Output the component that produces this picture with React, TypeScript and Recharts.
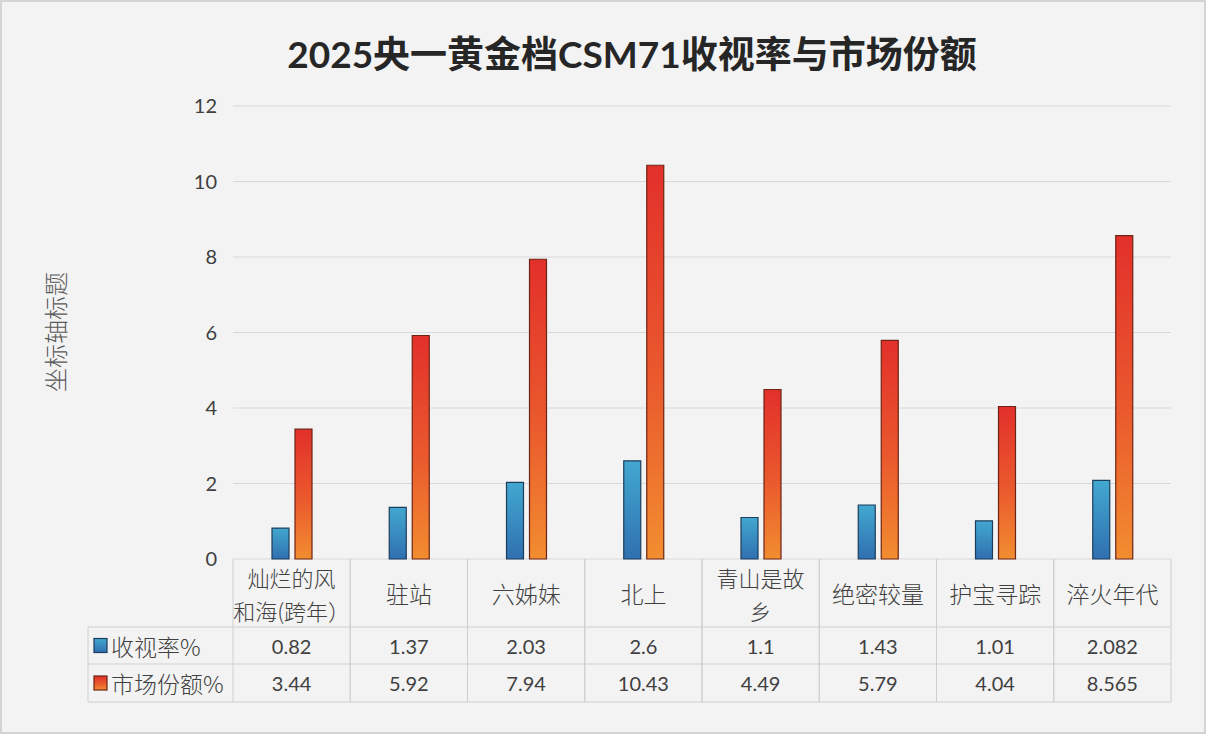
import { BarChart, Bar, XAxis, YAxis, CartesianGrid } from "recharts";

const categories = [
  "灿烂的风和海(跨年）",
  "驻站",
  "六姊妹",
  "北上",
  "青山是故乡",
  "绝密较量",
  "护宝寻踪",
  "淬火年代",
];
const ratings = [0.82, 1.37, 2.03, 2.6, 1.1, 1.43, 1.01, 2.082];
const shares = [3.44, 5.92, 7.94, 10.43, 4.49, 5.79, 4.04, 8.565];
const seriesNames = ["收视率%", "市场份额%"];
const yTicks = [0, 2, 4, 6, 8, 10, 12];

const title = "2025央一黄金档CSM71收视率与市场份额";
const yTitle = "坐标轴标题";

const data = categories.map((name, i) => ({
  name,
  rating: ratings[i],
  share: shares[i],
}));

// layout
const W = 1206;
const H = 734;
const PLOT_LEFT = 233;
const PLOT_RIGHT = 1171;
const PLOT_TOP = 106;
const PLOT_BOTTOM = 559;
const HEAD_BOTTOM = 627;
const ROW1_BOTTOM = 664;
const TABLE_BOTTOM = 702;
const ROW_LABEL_LEFT = 88;
const Y_AXIS_W = 60;
const COL_W = (PLOT_RIGHT - PLOT_LEFT) / categories.length;

const BORDER = "#cfcfcf";
const TEXT = "#404040";
const CJK = "'Noto Sans CJK SC', sans-serif";
const NUM = "Lato, 'Noto Sans CJK SC', sans-serif";

function splitLabel(s: string) {
  if (s.length <= 4) return [s];
  return [s.slice(0, 4), s.slice(4)];
}

function LegendKey({ x, y, fill, stroke }: { x: number; y: number; fill: string; stroke: string }) {
  return <rect x={x} y={y - 7} width={13} height={14} fill={fill} stroke={stroke} strokeWidth={1.2} />;
}

function TableTick(props: any) {
  const { x, payload } = props;
  const i = typeof props.index === "number" ? props.index : categories.indexOf(payload.value);
  const left = x - COL_W / 2;
  const lines = splitLabel(String(payload.value));
  const headMid = (PLOT_BOTTOM + HEAD_BOTTOM) / 2;
  const lineGap = 33;
  const firstY = headMid - ((lines.length - 1) / 2) * lineGap;

  return (
    <g>
      <line x1={left} y1={PLOT_BOTTOM} x2={left} y2={TABLE_BOTTOM} stroke={BORDER} />
      <line x1={left + COL_W} y1={PLOT_BOTTOM} x2={left + COL_W} y2={TABLE_BOTTOM} stroke={BORDER} />
      <line x1={left} y1={HEAD_BOTTOM} x2={left + COL_W} y2={HEAD_BOTTOM} stroke={BORDER} />
      <line x1={left} y1={ROW1_BOTTOM} x2={left + COL_W} y2={ROW1_BOTTOM} stroke={BORDER} />
      <line x1={left} y1={TABLE_BOTTOM} x2={left + COL_W} y2={TABLE_BOTTOM} stroke={BORDER} />
      {lines.map((l, k) => (
        <text
          key={k}
          x={x}
          y={firstY + k * lineGap}
          textAnchor="middle"
          dominantBaseline="central"
          fontFamily={CJK}
          fontSize={lines.length > 1 ? 22 : 23}
          fontWeight={300}
          fill={TEXT}
        >
          {l}
        </text>
      ))}
      <text
        x={x}
        y={(HEAD_BOTTOM + ROW1_BOTTOM) / 2}
        textAnchor="middle"
        dominantBaseline="central"
        fontFamily={NUM}
        fontSize={20}
        fill={TEXT}
      >
        {ratings[i]}
      </text>
      <text
        x={x}
        y={(ROW1_BOTTOM + TABLE_BOTTOM) / 2}
        textAnchor="middle"
        dominantBaseline="central"
        fontFamily={NUM}
        fontSize={20}
        fill={TEXT}
      >
        {shares[i]}
      </text>

      {i === 0 && (
        <g>
          <line x1={ROW_LABEL_LEFT} y1={HEAD_BOTTOM} x2={left} y2={HEAD_BOTTOM} stroke={BORDER} />
          <line x1={ROW_LABEL_LEFT} y1={ROW1_BOTTOM} x2={left} y2={ROW1_BOTTOM} stroke={BORDER} />
          <line x1={ROW_LABEL_LEFT} y1={TABLE_BOTTOM} x2={left} y2={TABLE_BOTTOM} stroke={BORDER} />
          <line x1={ROW_LABEL_LEFT} y1={HEAD_BOTTOM} x2={ROW_LABEL_LEFT} y2={TABLE_BOTTOM} stroke={BORDER} />
          <LegendKey x={94} y={(HEAD_BOTTOM + ROW1_BOTTOM) / 2} fill="url(#gradBlue)" stroke="#1d3d5c" />
          <LegendKey x={94} y={(ROW1_BOTTOM + TABLE_BOTTOM) / 2} fill="url(#gradRed)" stroke="#6e2414" />
          {seriesNames.map((s, k) => (
            <text
              key={s}
              x={111}
              y={k === 0 ? (HEAD_BOTTOM + ROW1_BOTTOM) / 2 : (ROW1_BOTTOM + TABLE_BOTTOM) / 2}
              dominantBaseline="central"
              fontFamily={CJK}
              fontSize={23}
              fontWeight={300}
              fill={TEXT}
            >
              {s}
            </text>
          ))}
        </g>
      )}
    </g>
  );
}

export default function App() {
  return (
    <div
      style={{
        position: "absolute",
        left: 0,
        top: 0,
        width: W,
        height: H,
        background: "#f3f3f3",
        boxSizing: "border-box",
        border: "2px solid #d4d4d4",
        overflow: "hidden",
      }}
    >
      <div
        style={{
          position: "absolute",
          left: 630,
          top: 50,
          transform: "translate(-50%, -50%)",
          whiteSpace: "nowrap",
          fontFamily: NUM,
          fontWeight: 700,
          fontSize: 37,
          color: "#262626",
        }}
      >
        {title}
      </div>
      <div
        style={{
          position: "absolute",
          left: 52,
          top: 330,
          transform: "translate(-50%, -50%) rotate(-90deg)",
          whiteSpace: "nowrap",
          fontFamily: CJK,
          fontWeight: 300,
          fontSize: 24,
          color: "#595959",
        }}
      >
        {yTitle}
      </div>
      <div style={{ position: "absolute", left: -2, top: -2 }}>
        <BarChart
          width={W}
          height={H}
          data={data}
          margin={{
            top: PLOT_TOP,
            right: W - PLOT_RIGHT,
            left: PLOT_LEFT - Y_AXIS_W,
            bottom: H - TABLE_BOTTOM,
          }}
          barSize={17}
          barGap={6}
        >
          <defs>
            <linearGradient id="gradBlue" x1="0" y1="0" x2="0" y2="1">
              <stop offset="0%" stopColor="#42a8d0" />
              <stop offset="100%" stopColor="#3070b0" />
            </linearGradient>
            <linearGradient id="gradRed" x1="0" y1="0" x2="0" y2="1">
              <stop offset="0%" stopColor="#e2302b" />
              <stop offset="55%" stopColor="#ea5a2d" />
              <stop offset="100%" stopColor="#f28d30" />
            </linearGradient>
          </defs>
          <CartesianGrid vertical={false} stroke="#d9d9d9" />
          <XAxis
            dataKey="name"
            axisLine={false}
            tickLine={false}
            interval={0}
            height={TABLE_BOTTOM - PLOT_BOTTOM}
            tick={<TableTick />}
          />
          <YAxis
            width={Y_AXIS_W}
            domain={[0, 12]}
            ticks={yTicks}
            interval={0}
            axisLine={false}
            tickLine={false}
            tickMargin={10}
            tick={{ fill: TEXT, fontSize: 20, fontFamily: NUM }}
          />
          <Bar
            dataKey="rating"
            name={seriesNames[0]}
            fill="url(#gradBlue)"
            stroke="#1d3d5c"
            strokeWidth={1.2}
            isAnimationActive={false}
          />
          <Bar
            dataKey="share"
            name={seriesNames[1]}
            fill="url(#gradRed)"
            stroke="#6e2414"
            strokeWidth={1.2}
            isAnimationActive={false}
          />
        </BarChart>
      </div>
    </div>
  );
}
